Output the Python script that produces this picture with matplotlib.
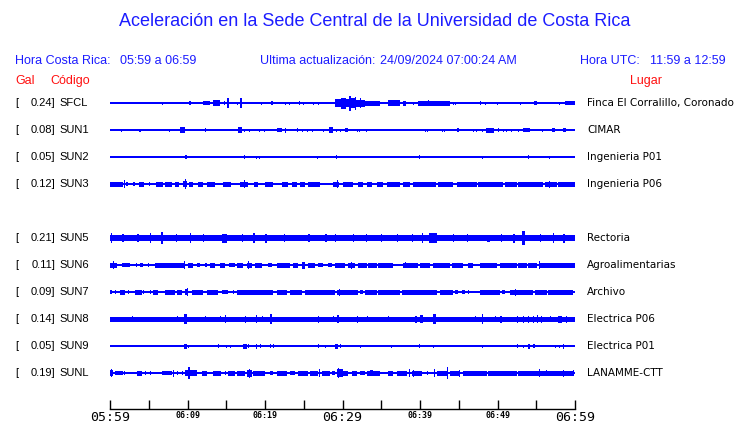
import matplotlib
matplotlib.use("Agg")
import matplotlib.pyplot as plt

# estaciones
codigos = ["SFCL", "SUN1", "SUN2", "SUN3", "SUN5", "SUN6", "SUN7", "SUN8", "SUN9", "SUNL"]
lugares = ["Finca El Corralillo, Coronado", "CIMAR", "Ingenieria P01", "Ingenieria P06",
           "Rectoria", "Agroalimentarias", "Archivo", "Electrica P06", "Electrica P01", "LANAMME-CTT"]
gal = [0.24, 0.08, 0.05, 0.12, 0.21, 0.11, 0.09, 0.14, 0.05, 0.19]
filas = [0, 1, 2, 3, 5, 6, 7, 8, 9, 10]   # SUN4 sin datos

# nivel base de cada traza (px) y rafagas (min_inicio, min_fin, amplitud px)
base = [1.0, 1.0, 1.0, 1.0, 3.1, 1.0, 1.0, 2.5, 1.0, 1.0]

sfcl = [(6.7, 6.7, 1.8), (10.2, 10.4, 2), (12.0, 12.9, 2), (13.3, 14.2, 3), (14.7, 14.7, 2),
        (15.1, 15.3, 5), (16.4, 16.4, 1.5), (16.8, 17.0, 5), (19.5, 19.5, 1.5), (20.8, 21.0, 2),
        (22.6, 22.6, 1.5), (23.1, 23.1, 1.5), (24.4, 24.4, 2), (24.9, 24.9, 1.5), (26.2, 26.2, 1.5),
        (26.8, 26.8, 1.5), (29.0, 29.8, 4), (29.8, 30.4, 5.5), (30.4, 30.9, 4), (30.9, 31.1, 7.5),
        (31.1, 31.6, 5), (31.6, 31.8, 6.5), (31.8, 32.9, 3.5), (32.2, 32.3, 5),
        (32.9, 34.8, 2.5), (35.9, 37.4, 3), (37.8, 38.2, 2.5), (39.1, 39.1, 1.5), (39.7, 43.9, 2.5),
        (41.0, 41.2, 3), (44.3, 44.3, 1.5), (44.5, 44.5, 1.5), (47.7, 47.8, 2), (48.4, 48.4, 1.5),
        (49.9, 49.9, 1.5), (52.9, 52.9, 1.5), (54.7, 55.1, 2), (57.9, 57.9, 1.5), (58.7, 60.0, 2)]

sun1 = [(1.4, 1.4, 1.5), (3.8, 3.8, 1.5), (7.6, 7.6, 1.5), (9.0, 9.7, 3), (12.3, 12.4, 2),
        (16.5, 17.0, 3), (17.3, 17.3, 1.5), (17.9, 17.9, 1.5), (19.2, 19.2, 1.5), (19.9, 19.9, 1.5),
        (21.5, 22.2, 2), (22.6, 22.6, 2.5), (24.1, 24.1, 2), (24.8, 24.8, 1.5), (25.4, 25.4, 1.5),
        (26.0, 26.0, 1.5), (27.5, 27.5, 1.5), (28.3, 28.8, 3), (29.2, 29.2, 1.5), (29.7, 29.7, 1.5),
        (30.3, 30.7, 2), (31.9, 31.9, 1.5), (32.1, 32.1, 1.5), (33.0, 33.0, 1.5), (40.6, 40.6, 1.5),
        (40.9, 40.9, 1.5), (42.8, 42.8, 1.5), (43.1, 43.1, 1.5), (44.8, 45.0, 2), (46.8, 46.8, 1.5),
        (47.2, 47.2, 1.5), (48.0, 48.0, 1.5), (48.5, 49.5, 2.5), (50.0, 50.2, 2), (50.7, 50.7, 1.5),
        (51.1, 51.1, 1.5), (51.7, 51.7, 1.5), (52.6, 52.6, 1.5), (53.3, 54.2, 2), (55.7, 55.7, 1.5),
        (57.0, 57.4, 2), (58.5, 58.9, 2)]

sun2 = [(9.7, 9.9, 2), (17.3, 17.3, 2), (18.8, 18.8, 1.5), (19.2, 19.2, 1.5), (26.7, 26.7, 1.5),
        (29.1, 29.3, 2), (39.9, 39.9, 2), (48.0, 48.0, 1.5), (53.9, 53.9, 2), (56.6, 56.6, 1.5)]

sun3 = [(0.0, 1.7, 2.5), (1.8, 1.8, 4), (2.1, 2.3, 2), (3.0, 3.2, 2), (3.7, 4.4, 2.5), (5.0, 5.0, 2),
        (5.9, 6.8, 2.5), (7.1, 8.0, 2.5), (8.4, 8.9, 2.5), (9.4, 9.9, 3), (9.7, 9.7, 5),
        (10.2, 10.7, 2.5), (11.4, 12.0, 2.5), (12.5, 13.5, 2.5), (14.6, 15.6, 2.5), (16.8, 17.8, 2.5),
        (17.3, 17.3, 4), (18.6, 19.1, 2.5), (20.0, 21.0, 2.5), (22.2, 23.0, 2.5), (23.5, 24.1, 2.5),
        (24.5, 25.2, 2.5), (25.5, 27.1, 2.5), (28.8, 29.5, 2.5), (29.3, 29.3, 4), (30.1, 31.4, 2.5),
        (32.0, 32.6, 2.5), (33.2, 33.8, 2.5), (34.5, 35.2, 2.5), (35.7, 37.4, 2.5), (37.8, 38.7, 2.5),
        (39.1, 42.1, 2.5), (42.3, 44.3, 2.5), (44.8, 47.4, 2.5), (47.5, 50.7, 2.5), (51.0, 52.5, 2.5),
        (52.6, 55.9, 2.5), (56.1, 57.7, 2.5), (56.6, 56.6, 3.5), (57.8, 60.0, 2.5)]

sun5 = [(0.1, 0.3, 5), (1.6, 1.8, 4), (3.5, 3.7, 4), (5.1, 5.3, 5), (6.6, 6.8, 6), (8.5, 8.6, 4),
        (10.3, 10.5, 5), (12.0, 12.1, 4), (14.4, 15.1, 4.5), (17.0, 17.1, 4), (18.4, 18.7, 5),
        (20.0, 20.2, 4.5), (22.5, 22.6, 4), (25.6, 25.8, 4), (27.8, 28.0, 4), (29.0, 29.2, 4),
        (31.3, 31.4, 4), (33.0, 33.1, 4), (35.0, 35.1, 4), (37.0, 37.2, 4), (39.0, 39.1, 4),
        (40.2, 40.4, 5), (41.2, 42.2, 5), (44.2, 44.3, 4), (46.0, 46.1, 4), (48.7, 49.0, 3.5),
        (50.5, 50.6, 4), (52.0, 52.2, 4.5), (53.2, 53.5, 7), (55.5, 55.6, 4), (57.1, 57.3, 5),
        (58.5, 58.7, 4.5)]

sun6 = [(0.0, 0.9, 2.5), (0.4, 0.5, 4), (1.5, 2.6, 2), (3.3, 3.3, 2), (3.9, 4.3, 2), (4.9, 4.9, 2),
        (5.8, 6.7, 2.5), (6.7, 9.7, 2.5), (9.5, 9.6, 4), (10.1, 10.7, 2.5), (11.2, 11.6, 2),
        (12.2, 12.5, 2), (12.9, 13.5, 2.5), (14.2, 14.8, 2.5), (15.4, 16.1, 2), (16.4, 17.2, 2.5),
        (17.7, 18.3, 2.5), (17.8, 17.9, 4), (18.7, 19.6, 2.5), (20.4, 20.9, 2), (21.5, 23.2, 2.5),
        (23.6, 24.3, 2.5), (24.8, 25.2, 3.5), (25.5, 26.5, 2.5), (26.8, 27.5, 2), (28.1, 28.6, 2),
        (29.0, 30.3, 2.5), (30.7, 31.6, 2.5), (31.1, 31.2, 3.5), (32.0, 33.2, 2.5), (33.3, 34.5, 2.5),
        (34.6, 36.5, 2.5), (37.8, 39.7, 2.5), (38.0, 38.1, 3), (40.0, 41.3, 2.5), (41.7, 43.9, 2.5),
        (44.1, 45.5, 2.5), (46.2, 46.8, 2.5), (47.7, 49.9, 2.5), (50.3, 52.5, 2.5), (52.6, 53.8, 2.5),
        (53.9, 55.1, 2.5), (55.3, 55.4, 4), (55.5, 60.0, 2.5)]

sun7 = [(0.0, 0.3, 2), (0.6, 0.6, 2), (1.3, 1.9, 2.5), (2.3, 2.3, 2), (3.2, 4.1, 2.5), (4.3, 4.3, 2),
        (5.2, 5.2, 2), (5.5, 6.2, 2.5), (7.1, 8.4, 2.5), (8.6, 9.3, 2.5), (9.7, 10.1, 3),
        (9.9, 10.0, 4), (10.6, 12.0, 2.5), (12.5, 13.9, 2.5), (14.5, 15.2, 2), (15.9, 15.9, 2),
        (16.4, 21.0, 2.5), (21.5, 22.8, 2.5), (23.2, 24.8, 2.5), (25.2, 29.0, 2.5), (29.3, 30.0, 2.5),
        (29.6, 29.7, 3.5), (29.7, 32.0, 2.5), (32.3, 32.6, 2), (32.9, 34.5, 2.5), (34.6, 37.4, 2.5),
        (37.7, 42.2, 2.5), (42.6, 44.3, 2.5), (44.5, 44.9, 2), (45.4, 45.8, 2), (46.2, 46.2, 2),
        (47.7, 50.3, 2.5), (50.6, 51.0, 2), (51.6, 54.6, 2.5), (52.3, 52.4, 3.5), (54.8, 56.4, 2.5),
        (56.5, 59.7, 2.5)]

sun8 = [(2.8, 2.8, 3), (8.6, 8.6, 3), (9.6, 10.0, 5), (12.2, 12.2, 3), (14.2, 14.2, 3),
        (14.8, 15.0, 4), (17.4, 17.5, 3.5), (18.8, 18.9, 4), (19.6, 19.6, 3), (20.6, 20.9, 5),
        (26.8, 26.8, 3.5), (28.8, 28.8, 3), (29.3, 29.5, 4), (31.9, 31.9, 3.5), (33.2, 33.2, 3),
        (35.9, 35.9, 3), (39.4, 39.6, 3.5), (40.0, 40.4, 4), (41.7, 42.0, 5), (47.1, 47.1, 3),
        (48.0, 48.1, 5), (49.7, 49.7, 3), (50.3, 50.6, 3.5), (52.5, 52.5, 3.5), (53.3, 53.3, 3.5),
        (53.9, 54.0, 3.5), (54.6, 54.6, 3.5), (55.1, 55.2, 4), (55.6, 55.7, 3.5), (56.8, 56.8, 3),
        (57.8, 58.3, 3.5), (58.8, 58.8, 3.5)]

sun9 = [(9.5, 9.9, 2.5), (10.1, 10.1, 1.5), (13.9, 13.9, 2), (15.0, 15.0, 1.5), (15.5, 15.5, 1.5),
        (17.2, 17.7, 2.5), (17.8, 17.8, 2), (18.8, 18.8, 2.5), (19.4, 19.4, 2), (20.6, 20.6, 2),
        (21.0, 21.0, 2), (26.8, 26.8, 2), (27.7, 27.7, 1.5), (29.0, 29.4, 2.5), (29.7, 29.7, 2),
        (32.3, 32.3, 1.5), (36.3, 36.3, 1.5), (39.9, 39.9, 2), (41.7, 41.7, 1.5), (48.0, 48.0, 1.5),
        (52.5, 52.5, 2), (53.3, 53.3, 1.5), (53.9, 54.2, 2.5), (54.6, 54.6, 2), (54.7, 54.7, 2),
        (57.4, 57.4, 1.5), (57.9, 57.9, 1.5), (58.4, 58.5, 2.5)]

sunl = [(0.0, 0.4, 3), (0.1, 0.2, 4), (0.6, 1.7, 2), (1.8, 1.8, 2), (3.5, 4.1, 2.5), (4.5, 4.5, 2),
        (5.2, 5.2, 2), (6.7, 8.0, 2), (8.1, 8.2, 3.5), (8.6, 8.6, 2), (9.3, 9.3, 2), (9.7, 11.2, 3),
        (10.1, 10.3, 6), (11.9, 12.5, 2.5), (13.3, 14.3, 2.5), (14.8, 14.8, 2), (15.2, 16.1, 2.5),
        (16.4, 17.4, 2.5), (17.7, 18.3, 3.5), (17.9, 18.0, 4.5), (18.5, 20.0, 2.5), (20.6, 21.0, 2),
        (21.5, 22.8, 2.5), (23.2, 23.9, 2), (24.3, 25.5, 2.5), (25.8, 26.8, 2.5), (27.0, 27.0, 4),
        (27.4, 28.4, 2.5), (28.6, 29.0, 2), (29.3, 30.1, 4), (29.4, 29.5, 5), (29.7, 30.7, 2.5),
        (31.2, 31.9, 2.5), (32.3, 32.9, 2), (33.2, 34.8, 2.5), (33.5, 33.9, 3), (35.9, 36.5, 2.5),
        (37.0, 38.3, 2.5), (38.6, 38.6, 4), (39.0, 40.3, 2.5), (39.1, 39.1, 3.5), (40.9, 40.9, 2),
        (41.8, 41.8, 4), (42.2, 43.5, 2.5), (43.5, 43.6, 6), (43.9, 45.2, 2.5), (45.0, 45.1, 3.5),
        (45.5, 48.6, 2.5), (48.8, 52.5, 2.5), (52.6, 59.7, 2.5), (55.3, 55.4, 4), (56.3, 56.3, 3),
        (58.4, 58.5, 3.5), (59.7, 59.8, 3)]

rafagas = [sfcl, sun1, sun2, sun3, sun5, sun6, sun7, sun8, sun9, sunl]

tick_min = list(range(0, 61, 5))
tick_txt = {0: "05:59", 10: "06:09", 20: "06:19", 30: "06:29", 40: "06:39", 50: "06:49", 60: "06:59"}

AZUL = "#1c1cff"
TRAZO = "#0000ff"
W, H = 740, 423

fig = plt.figure(figsize=(W / 100, H / 100), dpi=100)

def pos(x, y):
    return x / W, 1 - y / H

# eje de trazas en coordenadas de pixel verticales
y_top, y_axis = 90, 409.3
ax = fig.add_axes([110 / W, (H - y_axis) / H, 465 / W, (y_axis - y_top) / H])
ax.set_xlim(0, 60)
ax.set_ylim(y_axis, y_top)

y0, dy = 103.3, 27
for i in range(len(codigos)):
    yc = y0 + dy * filas[i]
    ax.bar(0, 2 * base[i], width=60, bottom=yc - base[i], align="edge", color=TRAZO, lw=0)
    t0 = [r[0] for r in rafagas[i]]
    w = [max(r[1] - r[0], 0.14) for r in rafagas[i]]
    a = [r[2] for r in rafagas[i]]
    ax.bar(t0, [2 * v for v in a], width=w, bottom=[yc - v for v in a], align="edge",
           color=TRAZO, lw=0)

    fig.text(*pos(15, yc), "[", fontsize=8, family="Liberation Sans", va="center")
    fig.text(*pos(55, yc), f"{gal[i]:.2f}]", fontsize=8, family="Liberation Sans",
             va="center", ha="right")
    fig.text(*pos(59, yc), codigos[i], fontsize=8, family="Liberation Sans", va="center")
    fig.text(*pos(587, yc), lugares[i], fontsize=7.5, family="DejaVu Sans", va="center")

for s in ["top", "left", "right"]:
    ax.spines[s].set_visible(False)
ax.spines["bottom"].set_linewidth(1.0)
ax.set_yticks([])
ax.set_xticks(tick_min)
ax.set_xticklabels([tick_txt.get(m, "") for m in tick_min])
ax.tick_params(axis="x", direction="in", length=6.5, width=1, pad=1)
for lab, m in zip(ax.get_xticklabels(), tick_min):
    lab.set_family("DejaVu Sans Mono")
    if m in (0, 30, 60):
        lab.set_fontsize(9.5)
    else:
        lab.set_fontsize(6)
        lab.set_fontweight("bold")

# textos de cabecera
fig.text(*pos(375, 22), "Aceleración en la Sede Central de la Universidad de Costa Rica",
         fontsize=13, family="Liberation Sans", color=AZUL, ha="center", va="center")
cab = dict(fontsize=9, family="Liberation Sans", color=AZUL, va="center")
fig.text(*pos(15, 61), "Hora Costa Rica:", **cab)
fig.text(*pos(120, 61), "05:59 a 06:59", **cab)
fig.text(*pos(260, 61), "Ultima actualización:", **cab)
fig.text(*pos(380, 61), "24/09/2024 07:00:24 AM", **cab)
fig.text(*pos(580, 61), "Hora UTC:", **cab)
fig.text(*pos(650, 61), "11:59 a 12:59", **cab)
roj = dict(fontsize=9, family="Liberation Sans", color="#ff1010", va="center")
fig.text(*pos(15, 81), "Gal", **roj)
fig.text(*pos(50, 81), "Código", **roj)
fig.text(*pos(630, 81), "Lugar", **roj)

fig.savefig("out.png", dpi=100)
